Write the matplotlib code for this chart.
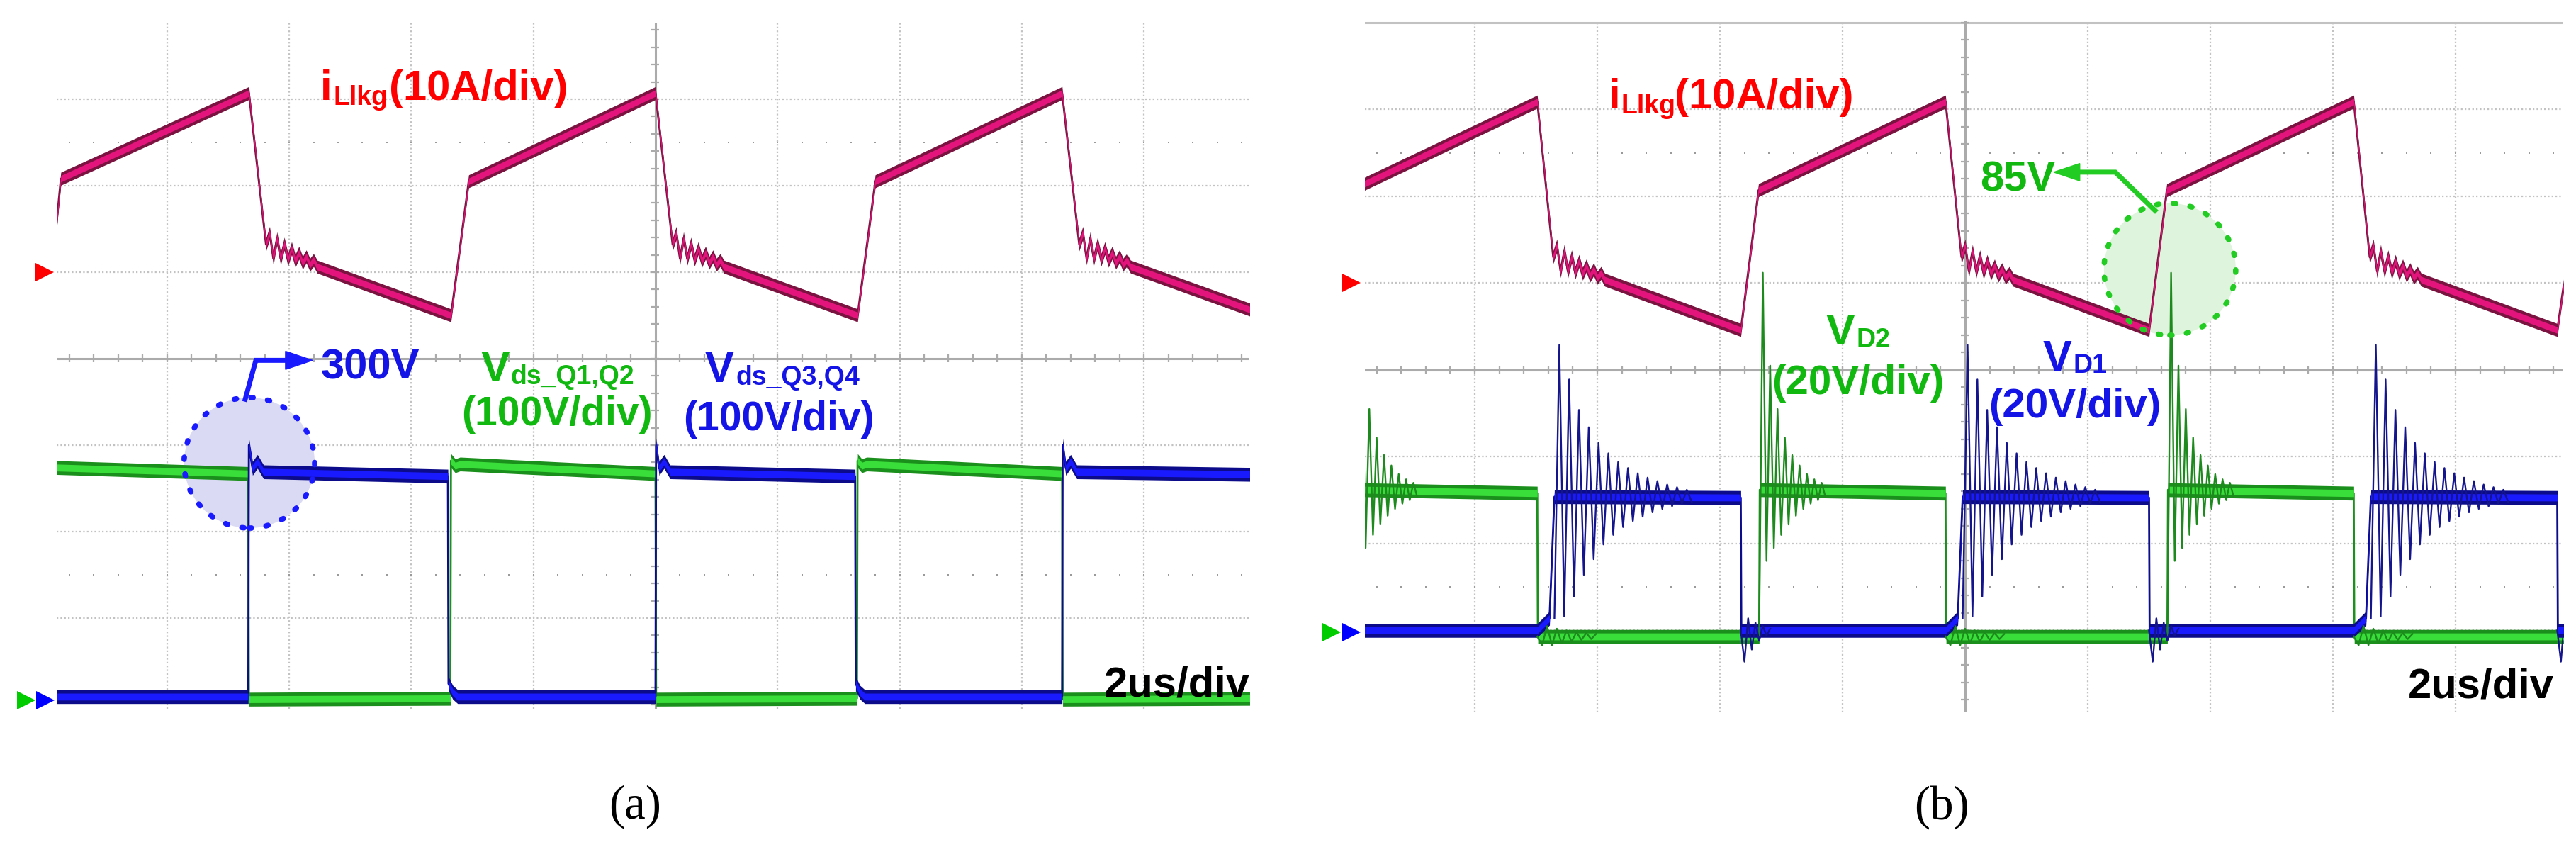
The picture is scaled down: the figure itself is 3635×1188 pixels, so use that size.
import numpy as np
import matplotlib.pyplot as plt
from matplotlib.patches import Ellipse, Polygon

W, H, DPI = 3635, 1188, 100

# ------------------------------------------------------------------
# waveforms read off the two scope screens, all in divisions
# time = div from screen centre (2us/div), value = div from centre
# ------------------------------------------------------------------

# (a) leakage current iLlkg (10A/div)
a_cur_t = [-4.92, -4.87, -3.33, -3.19, -1.675, -1.53, 0.0, 0.14, 1.655, 1.80, 3.33, 3.47, 4.90]
a_cur_v = [1.35, 2.08, 3.07, 1.32, 0.50, 2.05, 3.07, 1.32, 0.50, 2.05, 3.07, 1.32, 0.55]
a_cur_fall_end = [-3.19, 0.14, 3.47]

# (a) Vds_Q1,Q2 (green) and Vds_Q3,Q4 (blue), 100V/div
a_g_t = [-4.92, -3.335, -3.33, -1.68, -1.675, -1.64, -1.60, 0.0, 0.005, 1.65, 1.655, 1.69, 1.73,
         3.33, 3.335, 4.90]
a_g_v = [-1.26, -1.33, -3.94, -3.93, -1.18, -1.24, -1.22, -1.33, -3.94, -3.93, -1.18, -1.24, -1.22,
         -1.33, -3.94, -3.93]
a_b_t = [-4.92, -3.335, -3.33, -3.30, -3.26, -3.21, -1.70, -1.695, -1.66, -1.62,
         0.0, 0.005, 0.03, 0.07, 0.12, 1.635, 1.64, 1.675, 1.715,
         3.33, 3.335, 3.36, 3.40, 3.45, 4.90]
a_b_v = [-3.91, -3.91, -1.00, -1.27, -1.19, -1.31, -1.36, -3.76, -3.86, -3.91,
         -3.91, -1.00, -1.27, -1.19, -1.31, -1.36, -3.76, -3.86, -3.91,
         -3.91, -1.00, -1.27, -1.19, -1.31, -1.34]

# (b) leakage current iLlkg (10A/div)
b_cur_t = [-4.92, -3.49, -3.36, -1.83, -1.685, -0.16, -0.03, 1.50, 1.645, 3.17, 3.30, 4.83, 4.89]
b_cur_v = [2.13, 3.09, 1.30, 0.46, 2.07, 3.09, 1.30, 0.46, 2.07, 3.09, 1.30, 0.46, 1.05]
b_cur_fall_end = [-3.36, -0.03, 3.30]

# (b) VD2 (green) and VD1 (blue), 20V/div - flat levels
b_g_t = [-4.92, -3.49, -3.485, -1.68, -1.675, -0.16, -0.155, 1.65, 1.655, 3.17, 3.175, 4.90]
b_g_v = [-1.38, -1.42, -3.07, -3.07, -1.38, -1.42, -3.07, -3.07, -1.38, -1.42, -3.07, -3.07]
b_b_t = [-4.92, -3.49, -3.39, -3.35, -1.83, -1.825, -0.16, -0.06, -0.02, 1.50, 1.505,
         3.17, 3.27, 3.31, 4.83, 4.835, 4.90]
b_b_v = [-3.00, -3.00, -2.86, -1.46, -1.47, -3.00, -3.00, -2.86, -1.46, -1.47, -3.00,
         -3.00, -2.86, -1.46, -1.47, -3.00, -3.00]

# ringing (successive extremes)
cur_ring = [0.15, -0.13, 0.12, -0.10, 0.09, -0.08, 0.07, -0.06, 0.05, -0.05, 0.04, -0.04, 0.03, -0.03]
b_blue_rise = [-3.35, -0.02, 3.31]
b_blue_ring = [1.75, -1.38, 1.35, -1.15, 1.00, -0.90, 0.80, -0.72, 0.62, -0.55, 0.50, -0.44,
               0.40, -0.35, 0.33, -0.28, 0.27, -0.23, 0.22, -0.18, 0.18, -0.14, 0.14, -0.11,
               0.11, -0.08, 0.08, -0.06]
b_blue_fall = [-1.83, 1.50, 4.83]
b_blue_dip = [-0.36, 0.14, -0.22, 0.09, -0.12, 0.05, -0.06, 0.02]
b_green_rise = [-5.01, -1.68, 1.65]
b_green_ring = [2.52, -0.80, 1.45, -0.65, 0.95, -0.50, 0.62, -0.38, 0.42, -0.28, 0.30, -0.20,
                0.20, -0.14, 0.14, -0.10, 0.10, -0.06]
b_green_fall = [-3.49, -0.16, 3.17]
b_green_wig = [-0.10, 0.12, -0.10, 0.09, -0.08, 0.07, -0.06, 0.05, -0.04, 0.04, -0.03, 0.03]

# colours
red_txt = '#ff0000'
grn_txt = '#10b810'
blu_txt = '#1414e6'
cur_dark, cur_core = '#7b1341', '#e3157c'
g_dark, g_core = '#1b8f1b', '#3ade3a'
b_dark, b_core = '#0c0c8a', '#1a1aff'
grid_col = '#c2c2c2'
axis_col = '#ababab'


def with_ring(t, v, starts, amps, step):
    t = np.asarray(t, float)
    v = np.asarray(v, float)
    et = np.concatenate([s + step * np.arange(1, len(amps) + 1) for s in starts])
    ev = np.interp(et, t, v) + np.tile(amps, len(starts))
    tt = np.r_[t, et]
    vv = np.r_[v, ev]
    o = np.argsort(tt, kind='stable')
    return tt[o], vv[o]


def draw_trace(ax, t, v, w, dark, core, z):
    t = np.asarray(t, float)
    v = np.asarray(v, float)
    ax.plot(t, v, color=dark, lw=2.0, zorder=z)
    ax.fill_between(t, v - w, v + w, color=dark, lw=0, zorder=z + 0.1)
    ax.fill_between(t, v - 0.5 * w, v + 0.5 * w, color=core, lw=0, zorder=z + 0.2)


def ring_line(ax, starts, v_from, level, amps, step, color, z, lw=1.7):
    for s in starts:
        t = s + step * np.arange(len(amps) + 1)
        v = np.r_[v_from, level + np.asarray(amps)]
        ax.plot(t, v, color=color, lw=lw, zorder=z)


def graticule(ax, top_line=False):
    x0, x1 = ax.get_xlim()
    y0, y1 = ax.get_ylim()
    dots = (0, (1, 1.4))
    ax.vlines([-4, -3, -2, -1, 1, 2, 3, 4], y0, y1, colors=grid_col, lw=1.6, linestyles=dots, zorder=0.5)
    ax.hlines([-3, -2, -1, 1, 2, 3], x0, x1, colors=grid_col, lw=1.6, linestyles=dots, zorder=0.5)
    ax.axvline(0, color=axis_col, lw=2.2, zorder=0.6)
    ax.axhline(0, color=axis_col, lw=2.2, zorder=0.6)
    tt = np.arange(-24, 25) * 0.2
    ax.vlines(tt, -0.045, 0.045, colors=axis_col, lw=1.6, zorder=0.6)
    vv = np.arange(-20, 21) * 0.2
    ax.hlines(vv, -0.032, 0.032, colors=axis_col, lw=1.6, zorder=0.6)
    for r in (2.5, -2.5):
        ax.plot(tt, np.full(tt.shape, r), ls='none', marker='s', ms=1.5, mew=0, color='#9a9a9a', zorder=0.5)
    if top_line:
        ax.axhline(4.0, color=grid_col, lw=2.2, zorder=0.5)


def ptext(x, y, s, size, color, family='Liberation Sans', weight='bold', **kw):
    kw.setdefault('ha', 'left')
    kw.setdefault('va', 'baseline')
    fig.text(x / W, 1 - y / H, s, fontsize=size, color=color, family=family,
             fontweight=weight, zorder=20, **kw)


def px_axes(x0, y0, x1, y1):
    ax = fig.add_axes([x0 / W, 1 - y1 / H, (x1 - x0) / W, (y1 - y0) / H])
    ax.set_axis_off()
    return ax


fig = plt.figure(figsize=(W / DPI, H / DPI), dpi=DPI)
fig.patch.set_facecolor('white')

# ---------------------------- panel (a) ----------------------------
ax1 = px_axes(80, 32, 1763, 1000)
ax1.set_xlim(-4.904, 4.864)
ax1.set_ylim(-4.05, 3.885)
graticule(ax1)

ax1.add_patch(Ellipse((-3.326, -1.205), 1.07, 1.51, facecolor='#dadaf5', edgecolor='none', zorder=1))

ct, cv = with_ring(a_cur_t, a_cur_v, a_cur_fall_end, cur_ring, 0.03)
draw_trace(ax1, ct, cv, 0.075, cur_dark, cur_core, 3)
draw_trace(ax1, a_g_t, a_g_v, 0.08, g_dark, g_core, 4)
draw_trace(ax1, a_b_t, a_b_v, 0.08, b_dark, b_core, 5)

ax1.add_patch(Ellipse((-3.326, -1.205), 1.07, 1.51, facecolor='none', edgecolor='#1a1aff',
                      lw=5.5, ls=(0, (0.4, 2.7)), capstyle='round', zorder=7))
ax1.plot([-3.36, -3.273, -3.02], [-0.47, -0.02, -0.02], color='#1a1aff', lw=5,
         solid_joinstyle='miter', zorder=7, clip_on=False)
ax1.add_patch(Polygon([(-2.809, -0.02), (-3.03, 0.085), (-3.03, -0.125)], closed=True,
                      color='#1a1aff', zorder=7))

ax1.plot([-5.003], [1.0], marker='>', ms=19, mew=0, color='#ff0000', clip_on=False)
ax1.plot([-5.154], [-3.95], marker='>', ms=19, mew=0, color='#00cc00', clip_on=False)
ax1.plot([-4.997], [-3.95], marker='>', ms=19, mew=0, color='#0000ff', clip_on=False)

# ---------------------------- panel (b) ----------------------------
ax2 = px_axes(1926, 29.5, 3617, 1004.6)
ax2.set_xlim(-4.896, 4.879)
ax2.set_ylim(-3.94, 4.02)
graticule(ax2, top_line=True)

ax2.add_patch(Ellipse((1.67, 1.16), 1.075, 1.52, facecolor='#dff4dc', edgecolor='none', zorder=1))

ct, cv = with_ring(b_cur_t, b_cur_v, b_cur_fall_end, cur_ring, 0.03)
draw_trace(ax2, ct, cv, 0.075, cur_dark, cur_core, 3)
draw_trace(ax2, b_g_t, b_g_v, 0.08, g_dark, g_core, 4)
draw_trace(ax2, b_b_t, b_b_v, 0.08, b_dark, b_core, 5)
ring_line(ax2, b_green_rise, -3.07, -1.40, b_green_ring, 0.03, '#1d8a1d', 6)
ring_line(ax2, b_green_fall, -3.07, -3.07, b_green_wig, 0.04, '#1d8a1d', 6)
ring_line(ax2, b_blue_rise, -2.86, -1.46, b_blue_ring, 0.04, '#14148c', 6.5)
ring_line(ax2, b_blue_fall, -3.00, -3.00, b_blue_dip, 0.03, '#14148c', 6.5)

ax2.add_patch(Ellipse((1.67, 1.16), 1.075, 1.52, facecolor='none', edgecolor='#22cc22',
                      lw=5.5, ls=(0, (0.4, 2.7)), capstyle='round', zorder=7))
ax2.plot([1.549, 1.225, 0.93], [1.837, 2.278, 2.278], color='#22cc22', lw=5,
         solid_joinstyle='miter', zorder=7)
ax2.add_patch(Polygon([(0.723, 2.278), (0.935, 2.378), (0.935, 2.178)], closed=True,
                      color='#22cc22', zorder=7))

ax2.plot([-5.006], [1.0], marker='>', ms=19, mew=0, color='#ff0000', clip_on=False)
ax2.plot([-5.168], [-3.02], marker='>', ms=19, mew=0, color='#00cc00', clip_on=False)
ax2.plot([-5.006], [-3.02], marker='>', ms=19, mew=0, color='#0000ff', clip_on=False)

# ------------------------------ labels ------------------------------
ptext(452, 141, 'i', 43, red_txt)
ptext(470, 148, 'Llkg', 27, red_txt)
ptext(549, 141, '(10A/div)', 43, red_txt)
ptext(453, 535, '300V', 43, blu_txt)
ptext(679, 538, 'V', 44, grn_txt)
ptext(721, 542, 'ds_Q1,Q2', 27, grn_txt)
ptext(651, 600, '(100V/div)', 41, grn_txt)
ptext(995, 539, 'V', 44, blu_txt)
ptext(1038, 543, 'ds_Q3,Q4', 27, blu_txt)
ptext(964, 607, '(100V/div)', 41, blu_txt)
ptext(1558, 983, '2us/div', 43, 'black')

ptext(2270, 153, 'i', 43, red_txt)
ptext(2288, 160, 'Llkg', 27, red_txt)
ptext(2363, 153, '(10A/div)', 43, red_txt)
ptext(2794, 269, '85V', 43, grn_txt)
ptext(2577, 486, 'V', 44, grn_txt)
ptext(2619, 490, 'D2', 27, grn_txt)
ptext(2500, 556, '(20V/div)', 42, grn_txt)
ptext(2883, 523, 'V', 44, blu_txt)
ptext(2925, 526, 'D1', 27, blu_txt)
ptext(2806, 589, '(20V/div)', 42, blu_txt)
ptext(3398, 985, '2us/div', 43, 'black')

ptext(896, 1138, '(a)', 48, 'black', family='Liberation Serif', weight='normal', ha='center', va='center')
ptext(2740, 1139, '(b)', 48, 'black', family='Liberation Serif', weight='normal', ha='center', va='center')

fig.savefig('out.png', dpi=DPI, facecolor='white')
